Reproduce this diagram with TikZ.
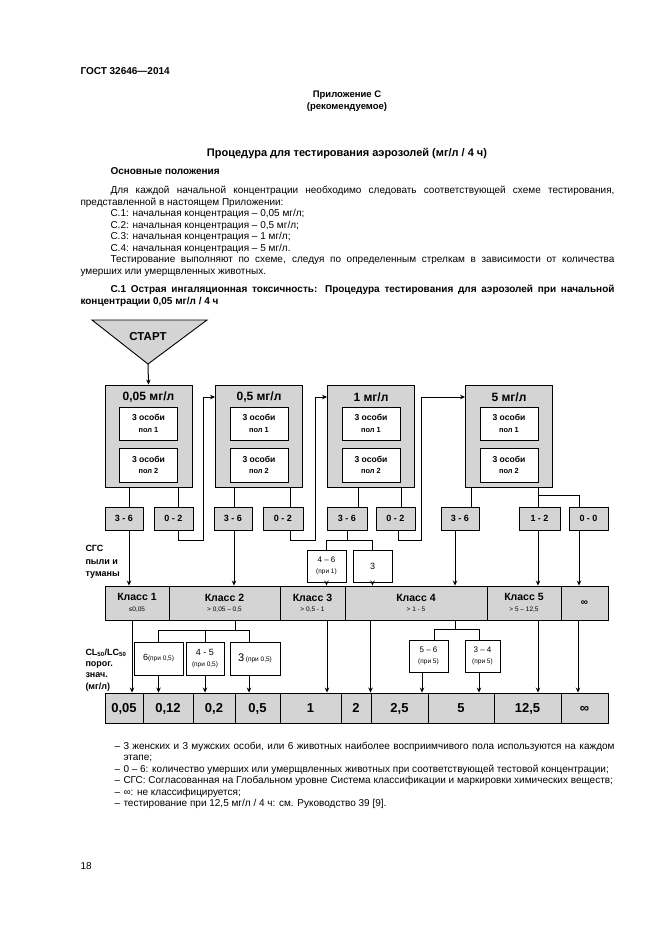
\documentclass[tikz,border=0pt]{standalone}
\usepackage{fontspec}
\setmainfont{Liberation Sans}
\usetikzlibrary{arrows.meta}
\definecolor{boxgray}{gray}{0.83}
\newcommand{\klasse}[2]{{\bfseries\fontsize{10.5}{11}\selectfont #1}\\{\fontsize{6.5}{8}\selectfont #2}}
\newcommand{\twoline}[2]{{\fontsize{8}{10}\selectfont #1}\\{\fontsize{6.5}{8}\selectfont #2}}
\begin{document}
\begin{tikzpicture}[x=1pt,y=-1pt,>={Stealth[length=5pt,width=4.5pt]},line width=1pt,
  font=\fontsize{10}{11.6}\selectfont,every node/.style={inner sep=0pt},
  gbox/.style={draw,fill=boxgray,line width=0.9pt},
  wbox/.style={draw,fill=white,line width=0.9pt,align=center},
  txt/.style={anchor=base west}]
\fill[white] (0,0) rectangle (661,935);
\useasboundingbox (0,0) rectangle (661,935);
\node[txt,font=\bfseries\fontsize{10}{12}\selectfont] (hdr) at (80,74) {ГОСТ 32646—2014};
\node[anchor=base,font=\bfseries\fontsize{9.5}{12}\selectfont] (app) at (347,97) {Приложение С};
\node[anchor=base,font=\bfseries\fontsize{9.5}{12}\selectfont] (rec) at (347,109) {(рекомендуемое)};
\node[anchor=base,font=\bfseries\fontsize{11}{12}\selectfont] (ttl) at (347,156) {Процедура для тестирования аэрозолей (мг/л / 4 ч)};
\node[txt,font=\bfseries] (gen) at (110,174) {Основные положения};
\node[txt] (l1) at (110,193) {\makebox[504pt][s]{Для каждой начальной концентрации необходимо следовать соответствующей схеме тестирования,}};
\node[txt] (l2) at (80,205) {представленной в настоящем Приложении:};
\foreach \y/\lbl in {216/{С.1: начальная концентрация – 0,05 мг/л;},228/{С.2: начальная концентрация – 0,5 мг/л;},
  239/{С.3: начальная концентрация – 1 мг/л;},251/{С.4: начальная концентрация – 5 мг/л.}}
  \node[txt] (l\y) at (110,\y) {\lbl};
\node[txt] (l7) at (110,262) {\makebox[504pt][s]{Тестирование выполняют по схеме, следуя по определенным стрелкам в зависимости от количества}};
\node[txt] (l8) at (80,274) {умерших или умерщвленных животных.};
\node[txt,font=\bfseries] (l9) at (110,292) {\makebox[504pt][s]{С.1 Острая ингаляционная токсичность: Процедура тестирования для аэрозолей при начальной}};
\node[txt,font=\bfseries] (l10) at (80,304) {концентрации 0,05 мг/л / 4 ч};

\draw[fill=boxgray,line width=0.9pt] (92,320) -- (207,320) -- (148,364) coordinate (tip) -- cycle;
\node[font=\bfseries\fontsize{11.5}{12}\selectfont] (start) at (148,337) {СТАРТ};
\foreach \n/\cx/\lbl in {c1/148.5/{0,05 мг/л},c2/259/{0,5 мг/л},c3/371/{1 мг/л},c4/509/{5 мг/л}}{
  \node[gbox,minimum width=87pt,minimum height=102pt] (\n) at (\cx,436) {};
  \node[font=\bfseries\fontsize{12}{12}\selectfont] (t\n) at (\cx,397) {\lbl};
  \node[wbox,minimum width=58pt,minimum height=33pt] (p\n) at (\cx,423.5) {{\bfseries\fontsize{8.6}{11}\selectfont 3 особи}\\{\bfseries\fontsize{7.4}{9}\selectfont пол 1}};
  \node[wbox,minimum width=58pt,minimum height=34pt] (q\n) at (\cx,465) {{\bfseries\fontsize{8.6}{11}\selectfont 3 особи}\\{\bfseries\fontsize{7.4}{9}\selectfont пол 2}};
}
\foreach \n/\cx/\w/\lbl in {r1a/124/38/{3 - 6},r1b/173.5/39/{0 - 2},r2a/233/38/{3 - 6},r2b/283/40/{0 - 2},
  r3a/347/40/{3 - 6},r3b/395.5/39/{0 - 2},r4a/460/38/{3 - 6},r4b/539.5/41/{1 - 2},r4c/588.5/39/{0 - 0}}
  \node[gbox,minimum width=\w,minimum height=23pt,text height=6.5pt,text depth=0pt,font=\bfseries\fontsize{9}{9}\selectfont] (\n) at (\cx,518.5) {\lbl};
\node[anchor=west,align=left,font=\bfseries\fontsize{9}{12.5}\selectfont] (sgs) at (85,562) {СГС\\пыли и\\туманы};
\node[wbox,minimum width=39pt,minimum height=32pt] (n31) at (326.5,566) {\twoline{4 – 6}{(при 1)}};
\node[wbox,minimum width=39pt,minimum height=32pt,font=\fontsize{9}{10}\selectfont] (n32) at (372.5,566) {3};
\foreach \n/\cx/\w/\lbl in {k1/137/64/{\klasse{Класс 1}{≤0,05}},k2/224.5/111/{\klasse{Класс 2}{> 0,05 – 0,5}},
  k3/312.5/65/{\klasse{Класс 3}{> 0,5 - 1}},k4/416/142/{\klasse{Класс 4}{> 1 - 5}},
  k5/524/74/{\klasse{Класс 5}{> 5 – 12,5}},k6/584.5/47/{{\bfseries\fontsize{10}{10}\selectfont ∞}}}
  \node[gbox,minimum width=\w,minimum height=34pt,align=center,font=\fontsize{7}{10.5}\selectfont] (\n) at (\cx,603) {\lbl};
\node[anchor=west,align=left,font=\bfseries\fontsize{9}{11.3}\selectfont] (cl) at (85,670) {CL\textsubscript{50}/LC\textsubscript{50}\\порог.\\знач.\\(мг/л)};
\node[wbox,minimum width=49pt,minimum height=33pt] (m1) at (158.5,658.5) {{\fontsize{9}{10}\selectfont 6}{\fontsize{6.5}{8}\selectfont(при 0,5)}};
\node[wbox,minimum width=38pt,minimum height=33pt] (m2) at (205,658.5) {{\fontsize{9}{11}\selectfont 4 - 5}\\{\fontsize{6.5}{8}\selectfont (при 0,5)}};
\node[wbox,minimum width=50pt,minimum height=33pt] (m3) at (255,658.5) {{\fontsize{11}{11}\selectfont 3}\,{\fontsize{6.5}{8}\selectfont (при 0,5)}};
\node[wbox,minimum width=39pt,minimum height=32pt] (q1) at (428.5,656) {\twoline{5 – 6}{(при 5)}};
\node[wbox,minimum width=35pt,minimum height=32pt] (q2) at (482.5,656) {\twoline{3 – 4}{(при 5)}};
\foreach \n/\cx/\w/\lbl in {v1/124/38/{0,05},v2/168/50/{0,12},v3/214/42/{0,2},v4/257.5/45/{0,5},v5/310.5/61/1,
  v6/356/30/2,v7/399.5/57/{2,5},v8/461/66/5,v9/527.5/67/{12,5},v10/584.5/47/∞}
  \node[gbox,minimum width=\w,minimum height=30pt,text height=9.4pt,text depth=0pt,font=\bfseries\fontsize{13}{13}\selectfont] (\n) at (\cx,708) {\lbl};

\draw[->] (tip) -- (c1.north);
\draw ([xshift=5pt]r1a.north |- c1.south) -- ([xshift=5pt]r1a.north);
\draw ([xshift=4.5pt]r1b.north |- c1.south) -- ([xshift=4.5pt]r1b.north);
\draw ([xshift=1pt]r2a.north |- c2.south) -- ([xshift=1pt]r2a.north);
\draw ([xshift=7pt]r2b.north |- c2.south) -- ([xshift=7pt]r2b.north);
\draw ([xshift=11pt]r3a.north |- c3.south) -- ([xshift=11pt]r3a.north);
\draw ([xshift=5.5pt]r3b.north |- c3.south) -- ([xshift=5.5pt]r3b.north);
\draw ([xshift=11pt]r4a.north |- c4.south) -- ([xshift=11pt]r4a.north);
\draw ([xshift=-1.5pt]r4b.north |- c4.south) -- ([xshift=-1.5pt]r4b.north);
\draw ([xshift=-1.5pt]r4b.north |- c4.south) -- ++(0,8) -| ([xshift=-9.5pt]r4c.north);
\draw[->] ([xshift=4.5pt]r1b.south) -- ++(0,10) -| ([xshift=-12pt]c2.west |- tc2) -- (c2.west |- tc2);
\draw[->] ([xshift=7pt]r2b.south) -- ++(0,10) -| ([xshift=-12pt]c3.west |- tc3) -- (c3.west |- tc3);
\draw[->] ([xshift=3pt]r3b.south) -- ++(0,10) -| ([xshift=-44pt]c4.west |- tc4) -- (c4.west |- tc4);

\draw[->] ([xshift=5pt]r1a.south) -- ([xshift=5pt]r1a.south |- k1.north);
\draw[->] ([xshift=1pt]r2a.south) -- ([xshift=1pt]r2a.south |- k2.north);
\draw (r3a.south) -- ++(0,10) coordinate (s3);
\draw (n31.north) |- (s3) -| (n32.north);
\draw[->] (n31.south) -- (n31.south |- k3.north);
\draw[->] (n32.south) -- (n32.south |- k4.north);
\draw[->] ([xshift=-5pt]r4a.south) -- ([xshift=-5pt]r4a.south |- k4.north);
\draw[->] ([xshift=-1.5pt]r4b.south) -- ([xshift=-1.5pt]r4b.south |- k5.north);
\draw[->] ([xshift=-9.5pt]r4c.south) -- ([xshift=-9.5pt]r4c.south |- k6.north);

\draw[->] ([xshift=-5pt]k1.south) -- ([xshift=-5pt]k1.south |- v1.north);
\draw ([xshift=10.5pt]k2.south) -- ++(0,10) coordinate (s2);
\draw (m1.north) |- (s2) -| ([xshift=-6pt]m3.north);
\draw (m2.north) -- (m2.north |- s2);
\draw[->] (m1.south) -- (m1.south |- v2.north);
\draw[->] (m2.south) -- (m2.south |- v3.north);
\draw[->] ([xshift=-6pt]m3.south) -- ([xshift=-6pt]m3.south |- v4.north);
\draw[->] ([xshift=14.5pt]k3.south) -- ([xshift=14.5pt]k3.south |- v5.north);
\draw[->] (v7.north west |- k4.south) -- (v7.north west);
\draw ([xshift=39pt]k4.south) -- ++(0,9) coordinate (s4);
\draw ([xshift=5.5pt]q1.north) |- (s4) -| ([xshift=-3.5pt]q2.north);
\draw[->] ([xshift=-6.5pt]q1.south) -- ([xshift=-6.5pt]q1.south |- v7.north);
\draw[->] ([xshift=-3.5pt]q2.south) -- ([xshift=-3.5pt]q2.south |- v8.north);
\draw[->] ([xshift=14pt]k5.south) -- ([xshift=14pt]k5.south |- v9.north);
\draw[->] ([xshift=-6.5pt]k6.south) -- ([xshift=-6.5pt]k6.south |- v10.north);

\node[txt] (d1) at (114,749) {–};
\node[txt] (f1) at (123,749) {\makebox[491pt][s]{3 женских и 3 мужских особи, или 6 животных наиболее восприимчивого пола используются на каждом}};
\node[txt] (f2) at (123,760) {этапе;};
\foreach \y/\lbl in {772/{0 – 6: количество умерших или умерщвленных животных при соответствующей тестовой концентрации;},
  783/{СГС: Согласованная на Глобальном уровне Система классификации и маркировки химических веществ;},
  795/{∞: не классифицируется;},806/{тестирование при 12,5 мг/л / 4 ч: см. Руководство 39 [9].}}{
  \node[txt] (d\y) at (114,\y) {–};
  \node[txt] (f\y) at (123,\y) {\lbl};
}
\node[txt] (page) at (80,869) {18};
\end{tikzpicture}
\end{document}
